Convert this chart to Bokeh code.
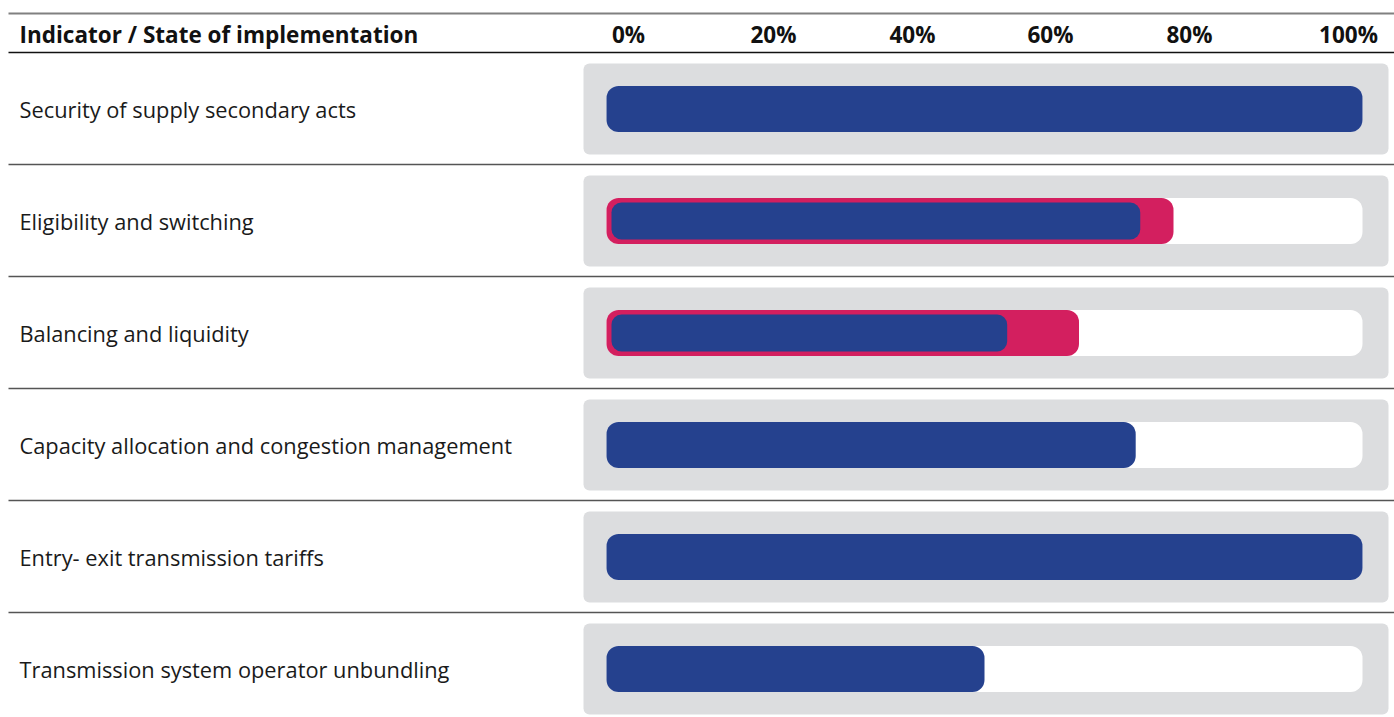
from bokeh.plotting import figure
from bokeh.models import Range1d
from bokeh.core.properties import value
from bokeh.embed import file_html
from bokeh.resources import INLINE

# ---- data ----
indicators = [
    "Security of supply secondary acts",
    "Eligibility and switching",
    "Balancing and liquidity",
    "Capacity allocation and congestion management",
    "Entry- exit transmission tariffs",
    "Transmission system operator unbundling",
]
implemented = [100, 70.6, 53.0, 70.0, 100, 50.0]       # blue bars (%)
partial = [None, 75.0, 62.5, None, None, None]        # pink bars (%)
tick_labels = ["0%", "20%", "40%", "60%", "80%", "100%"]
header_title = "Indicator / State of implementation"

# ---- layout constants (reference pixel geometry) ----
W, H = 1394, 717
X0_PX, X100_PX = 606, 1362  # pixel positions of 0% and 100%
SC = (X100_PX - X0_PX) / 100.0  # px per percent
def px2pct(px):
    return (px - X0_PX) / SC

ROW_TOP = 52
PITCH = 112
FONT = "Open Sans"
BLUE = "#25418E"
PINK = "#D31F5F"
GREY = "#DCDDDF"

p = figure(width=W, height=H, output_backend="svg", toolbar_location=None,
           x_range=Range1d(px2pct(0), px2pct(W)),
           y_range=Range1d(H, 0), min_border=0)
p.axis.visible = False
p.grid.visible = False
p.outline_line_color = None
p.background_fill_color = "white"
p.border_fill_color = "white"

centers = [ROW_TOP + PITCH * i + PITCH / 2 + 0.5 for i in range(len(indicators))]

# grey boxes
p.hbar(y=centers, left=px2pct(583), right=px2pct(1388), height=91,
       fill_color=GREY, line_color=None, border_radius=6)
# white tracks
p.hbar(y=centers, left=0, right=100, height=46,
       fill_color="white", line_color=None, border_radius=12)

# pink (partial) bars with inset blue bars
pc = [c for c, v in zip(centers, partial) if v is not None]
pv = [v for v in partial if v is not None]
pb = [b for b, v in zip(implemented, partial) if v is not None]
p.hbar(y=pc, left=0, right=pv, height=46, fill_color=PINK, line_color=None,
       border_radius=12)
inset = 5 / SC
p.hbar(y=pc, left=inset, right=pb, height=37, fill_color=BLUE, line_color=None,
       border_radius=10)

# plain blue bars
fc = [c for c, v in zip(centers, partial) if v is None]
fb = [b for b, v in zip(implemented, partial) if v is None]
p.hbar(y=fc, left=0, right=fb, height=46, fill_color=BLUE, line_color=None,
       border_radius=12)

# row labels
p.text(x=[px2pct(19)] * len(indicators), y=centers, text=indicators,
       text_font=value(FONT), text_font_size="21.8px", text_color="#1a1a1a",
       text_baseline="middle", text_align="left")

# header
p.text(x=[px2pct(19)], y=[34], text=[header_title], text_font=value(FONT),
       text_font_size="22.5px", text_font_style="bold", text_color="#111111",
       text_baseline="middle", text_align="left")
tick_px = [628, 773, 912, 1050, 1189, 1348]
p.text(x=[px2pct(t) for t in tick_px], y=[34] * len(tick_labels), text=tick_labels,
       text_font=value(FONT), text_font_size="22.5px", text_font_style="bold",
       text_color="#111111", text_baseline="middle", text_align="center")

# rules
xl, xr = px2pct(8), px2pct(W)
p.segment(x0=[xl], x1=[xr], y0=[13], y1=[13], line_color="#808080", line_width=2)
p.segment(x0=[xl], x1=[xr], y0=[52], y1=[52], line_color="#111111", line_width=1.5)
sep_y = [ROW_TOP + PITCH * i for i in range(1, len(indicators))]
p.segment(x0=[xl] * len(sep_y), x1=[xr] * len(sep_y), y0=sep_y, y1=sep_y,
          line_color="#555555", line_width=1.3)

open("out.html", "w").write(file_html(p, INLINE))
